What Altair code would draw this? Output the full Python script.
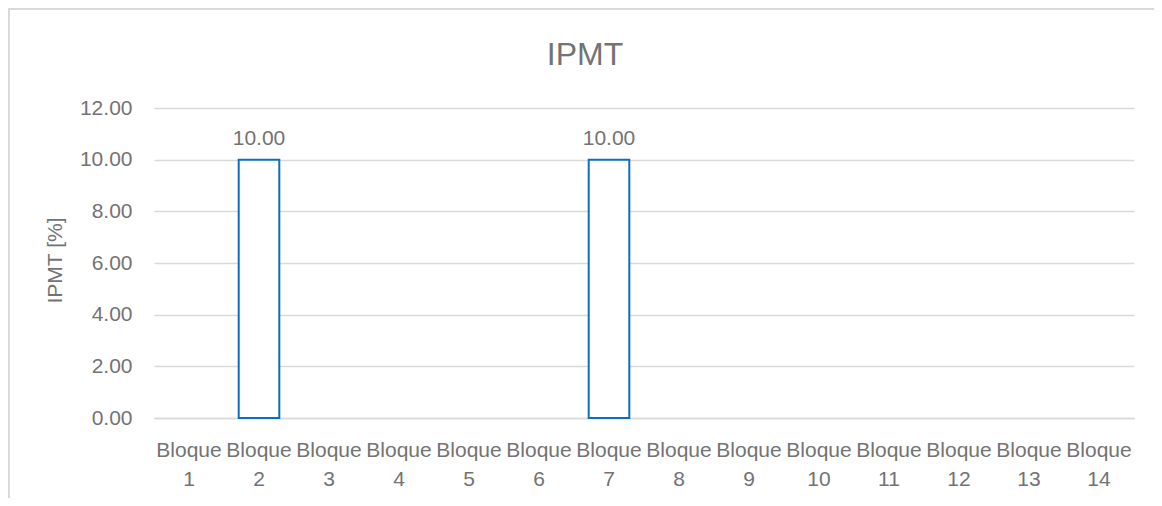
import altair as alt
import pandas as pd

categories = [f"Bloque {i}" for i in range(1, 15)]
values = [0, 10.0, 0, 0, 0, 0, 10.0, 0, 0, 0, 0, 0, 0, 0]
y_ticks = [0, 2, 4, 6, 8, 10, 12]
chart_title = "IPMT"
y_title = "IPMT [%]"

df = pd.DataFrame({"bloque": categories, "ipmt": values})

FONT = "Liberation Sans"
TXT = "#737373"
GRID = "#d9d9d9"
BLUE = "#0a6fc2"

x_scale = alt.Scale(domain=categories, paddingInner=0.42, paddingOuter=0.21)
y_scale = alt.Scale(domain=[0, 12], nice=False)

x_enc = alt.X(
    "bloque:N",
    sort=categories,
    title=None,
    scale=x_scale,
    axis=alt.Axis(
        labelExpr="split(datum.label, ' ')",
        labelAngle=0,
        labelFont=FONT,
        labelFontSize=21,
        labelColor=TXT,
        labelLineHeight=29,
        labelBaseline="top",
        labelPadding=21,
        ticks=False,
        tickSize=0,
        domain=True,
        domainColor=GRID,
        domainWidth=1.5,
        grid=False,
        labelOverlap=False,
    ),
)

y_enc = alt.Y(
    "ipmt:Q",
    scale=y_scale,
    axis=alt.Axis(
        values=y_ticks,
        format=".2f",
        title=y_title,
        titleFont=FONT,
        titleFontSize=21,
        titleFontWeight="normal",
        titleColor=TXT,
        titleX=-99,
        titleY=152,
        titleAngle=270,
        titleAlign="center",
        titleBaseline="middle",
        labelFont=FONT,
        labelFontSize=21,
        labelColor=TXT,
        labelPadding=22,
        ticks=False,
        tickSize=0,
        domain=False,
        grid=True,
        gridColor=GRID,
        gridWidth=1.3,
    ),
)

base = alt.Chart(df)

bars = base.mark_bar(
    fill="white", stroke=BLUE, strokeWidth=2
).encode(x=x_enc, y=y_enc).transform_filter("datum.ipmt > 0")

labels = base.mark_text(
    font=FONT, fontSize=21, color=TXT, baseline="alphabetic", dy=-15
).encode(
    x=alt.X("bloque:N", sort=categories, scale=x_scale),
    y=alt.Y("ipmt:Q", scale=y_scale),
    text=alt.Text("ipmt:Q", format=".2f"),
).transform_filter("datum.ipmt > 0")

title_mark = alt.Chart(pd.DataFrame({"t": [chart_title]})).mark_text(
    font=FONT, fontSize=32, color=TXT, baseline="alphabetic", align="center"
).encode(text="t:N", x=alt.value(431), y=alt.value(-43))

border_top = base.mark_rule(color=GRID, strokeWidth=1.5).encode(
    x=alt.value(-146), x2=alt.value(1000), y=alt.value(-99)
)
border_left = base.mark_rule(color=GRID, strokeWidth=1.5).encode(
    x=alt.value(-145), y=alt.value(-99), y2=alt.value(400)
)

chart = (
    alt.layer(bars, labels, title_mark, border_top, border_left)
    .properties(
        width=980,
        height=310,
        autosize=alt.AutoSizeParams(type="none"),
        padding={"left": 146, "top": 100, "right": 20, "bottom": 80},
    )
    .configure(background="white")
    .configure_view(stroke="transparent", strokeWidth=0)
)

chart.save("out.html", embed_options={"renderer": "svg", "actions": False})
